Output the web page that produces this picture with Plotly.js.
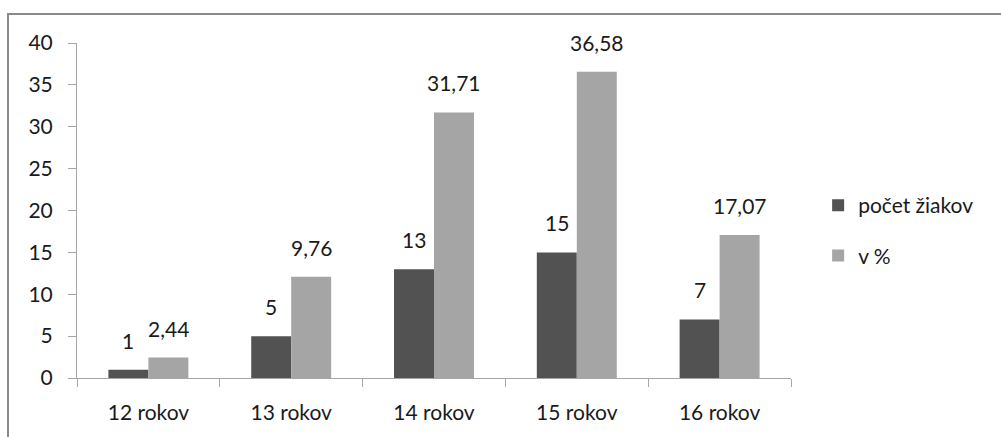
<!DOCTYPE html>
<html>
<head>
<meta charset="utf-8">
<script src="https://cdn.plot.ly/plotly-3.0.1.min.js"></script>
<style>
  html, body { margin: 0; padding: 0; background: #fff; }
  #frame { position: absolute; left: 0; top: 0; width: 1001px; height: 437px; }
  #border { position: absolute; left: 7px; top: 13px; width: 994px; height: 424px;
            border-top: 2px solid #8a8a8a; border-left: 2px solid #8a8a8a; box-sizing: border-box; pointer-events: none; }
  #chart { position: absolute; left: 0; top: 0; width: 1001px; height: 437px; }
</style>
</head>
<body>
<div id="frame">
  <div id="chart"></div>
  <div id="border"></div>
</div>
<script>
const categories = ["12 rokov", "13 rokov", "14 rokov", "15 rokov", "16 rokov"];
const pocetZiakov = [1, 5, 13, 15, 7];
const pocetLabels = ["1", "5", "13", "15", "7"];
const percent = [2.44, 12.1, 31.71, 36.58, 17.07];
const percentLabels = ["2,44", "9,76", "31,71", "36,58", "17,07"];
const yTicks = [0, 5, 10, 15, 20, 25, 30, 35, 40];

const FONT = "Lato, 'Open Sans', sans-serif";
const TXT = "#1a1a1a";
const FS = 21;

const traces = [
  { type: "bar", name: "počet žiakov", x: categories, y: pocetZiakov,
    marker: { color: "#525252" }, legendgroup: "a", hoverinfo: "skip" },
  { type: "bar", name: "v %", x: categories, y: percent,
    marker: { color: "#a5a5a5" }, legendgroup: "b", hoverinfo: "skip" }
];

const annotations = [];
categories.forEach((c, i) => {
  annotations.push({ x: c, y: pocetZiakov[i], xref: "x", yref: "y", text: pocetLabels[i],
    showarrow: false, xshift: -20, yshift: 15, yanchor: "bottom",
    font: { family: FONT, size: FS, color: TXT } });
  annotations.push({ x: c, y: percent[i], xref: "x", yref: "y", text: percentLabels[i],
    showarrow: false, xshift: 20, yshift: 15, yanchor: "bottom",
    font: { family: FONT, size: FS, color: TXT } });
});

const layout = {
  width: 1001, height: 437,
  margin: { l: 77, r: 210, t: 43, b: 59 },
  paper_bgcolor: "rgba(0,0,0,0)", plot_bgcolor: "rgba(0,0,0,0)",
  barmode: "group", bargap: 0.44, bargroupgap: 0,
  font: { family: FONT, size: FS, color: TXT },
  showlegend: true,
  legend: { x: 1.038, y: 0.44, xanchor: "left", yanchor: "middle",
            font: { family: FONT, size: FS, color: TXT },
            traceorder: "grouped", tracegroupgap: 20, itemwidth: 30 },
  xaxis: { type: "category", showline: true, linecolor: "#a6a6a6", linewidth: 1,
           ticks: "outside", tickson: "boundaries", ticklen: 8, tickcolor: "#a6a6a6",
           ticklabelstandoff: 16, showgrid: false, zeroline: false, fixedrange: true },
  yaxis: { range: [0, 40], tickvals: yTicks, ticktext: yTicks.map(String),
           showline: true, linecolor: "#a6a6a6", linewidth: 1,
           ticks: "outside", ticklen: 8, tickcolor: "#a6a6a6",
           ticklabelstandoff: 11, showgrid: false, zeroline: false, fixedrange: true },
  annotations: annotations
};

Plotly.newPlot("chart", traces, layout, { displayModeBar: false, staticPlot: true });
</script>
</body>
</html>
